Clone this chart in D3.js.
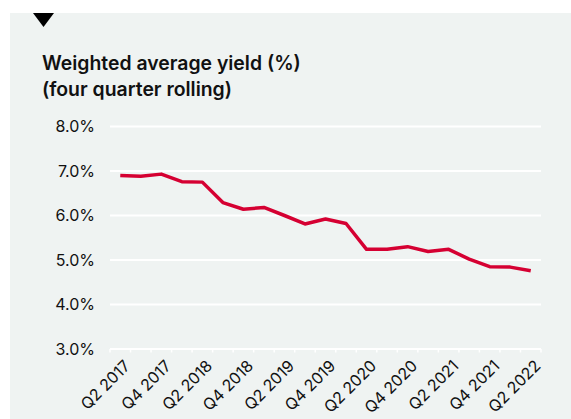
<!DOCTYPE html>
<html><head><meta charset="utf-8">
<script src="https://cdn.jsdelivr.net/npm/d3@7"></script>
<style>
html,body{margin:0;padding:0;background:#fff;}
svg{display:block;}
text{font-family:Inter,"Liberation Sans",Arial,sans-serif;fill:#111;}
</style></head>
<body>
<svg id="c" width="571" height="419"></svg>
<script>
const quarters = ["Q2 2017","Q3 2017","Q4 2017","Q1 2018","Q2 2018","Q3 2018","Q4 2018","Q1 2019","Q2 2019","Q3 2019","Q4 2019","Q1 2020","Q2 2020","Q3 2020","Q4 2020","Q1 2021","Q2 2021","Q3 2021","Q4 2021","Q1 2022","Q2 2022"];
const yieldValues = [6.90,6.88,6.93,6.76,6.75,6.29,6.14,6.18,6.00,5.81,5.92,5.82,5.24,5.24,5.30,5.19,5.24,5.02,4.85,4.84,4.76];
const yTicks = [3,4,5,6,7,8];
const titleLines = ["Weighted average yield (%)","(four quarter rolling)"];

const svg = d3.select("#c");
const W = 571, H = 419;

svg.append("rect").attr("x",10).attr("y",13).attr("width",W-10).attr("height",H-13).attr("fill","#eff3f2");
svg.append("path").attr("d","M33,13 L54,13 L43.5,27 Z").attr("fill","#000");

const title = svg.append("text").attr("x",42).attr("y",70).attr("font-size",19.4).attr("font-weight",600);
titleLines.forEach((t,i)=>title.append("tspan").attr("x",42).attr("dy",i?26:0).text(t));

const x = d3.scaleBand().domain(quarters).range([110,541]).paddingInner(0).paddingOuter(0);
const y = d3.scaleLinear().domain([3,8]).range([349,126.5]);

// gridlines
svg.append("g").selectAll("line").data(yTicks).join("line")
  .attr("x1",110).attr("x2",541).attr("y1",d=>y(d)).attr("y2",d=>y(d))
  .attr("stroke","#fff").attr("stroke-width",2);

// y labels
svg.append("g").selectAll("text").data(yTicks).join("text")
  .attr("x",95).attr("y",d=>y(d)).attr("dy","0.35em").attr("text-anchor","end")
  .attr("font-size",16).text(d=>d.toFixed(1)+"%");

// x ticks at band edges
const edges = quarters.map(q=>x(q)).concat([x(quarters[quarters.length-1])+x.bandwidth()]);
svg.append("g").selectAll("line").data(edges).join("line")
  .attr("x1",d=>d).attr("x2",d=>d).attr("y1",349).attr("y2",352.5)
  .attr("stroke","#fff").attr("stroke-width",1.5);

// x labels
svg.append("g").selectAll("text").data(quarters.filter((q,i)=>i%2===0)).join("text")
  .attr("transform",d=>`translate(${x(d)+x.bandwidth()/2+3},${359}) rotate(-45)`)
  .attr("text-anchor","end").attr("dy","0.7em").attr("font-size",16).text(d=>d);

// line
const line = d3.line().x((d,i)=>x(quarters[i])+x.bandwidth()/2).y(d=>y(d));
svg.append("path").datum(yieldValues).attr("d",line).attr("fill","none")
  .attr("stroke","#d50032").attr("stroke-width",3.5).attr("stroke-linejoin","round");
</script>
</body></html>
